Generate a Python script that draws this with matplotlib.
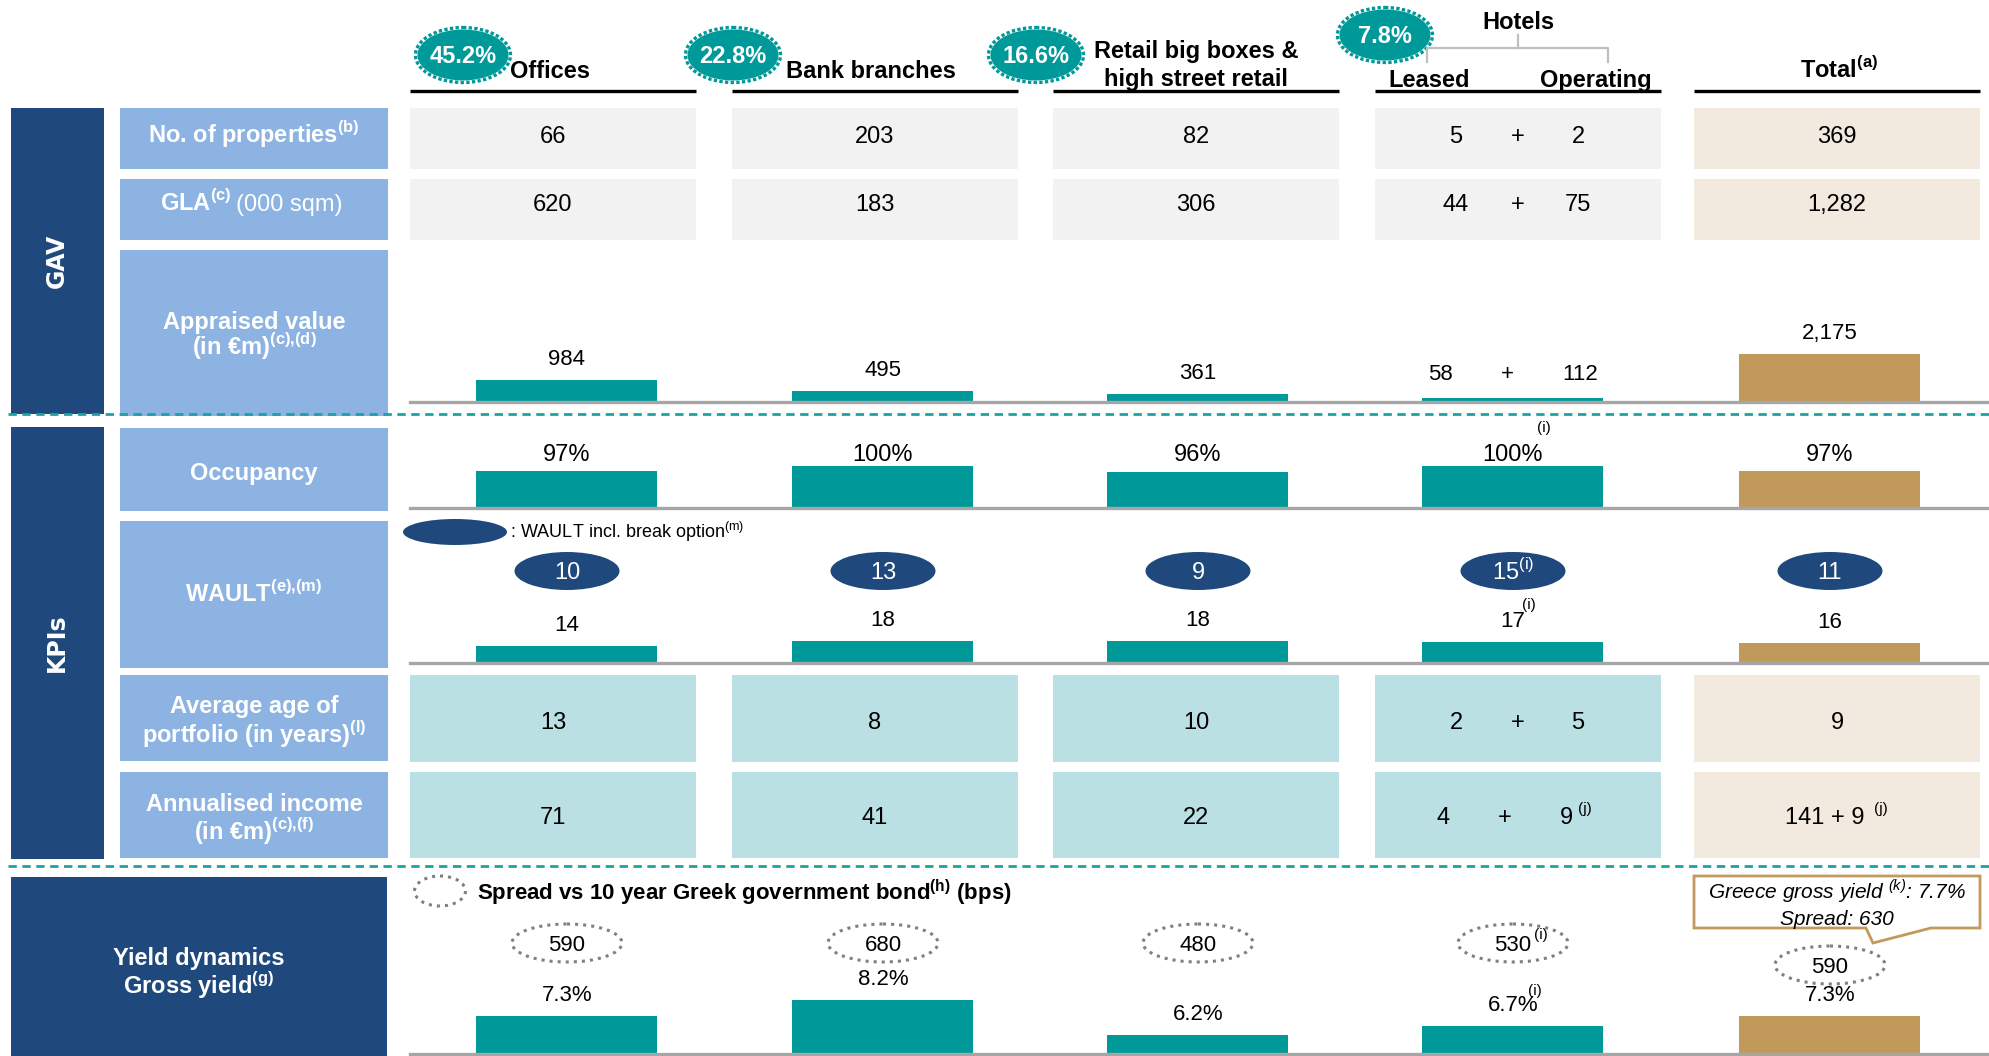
import matplotlib.pyplot as plt
from matplotlib.patches import Rectangle, Ellipse, Polygon

W, H = 1989, 1056

# --- data -------------------------------------------------------------
segments = ["Offices", "Bank branches", "Retail big boxes &\nhigh street retail", "Hotels", "Total"]
gav_share = ["45.2%", "22.8%", "16.6%", "7.8%"]
hotel_split = ["Leased", "Operating"]

n_properties = [66, 203, 82, (5, 2), 369]
gla_000sqm = [620, 183, 306, (44, 75), 1282]
appraised_value = [984, 495, 361, (58, 112), 2175]
occupancy_pct = [97, 100, 96, 100, 97]
wault_years = [14, 18, 18, 17, 16]
wault_break_years = [10, 13, 9, 15, 11]
avg_age_years = [13, 8, 10, (2, 5), 9]
annual_income = [71, 41, 22, (4, 9), (141, 9)]
gross_yield_pct = [7.3, 8.2, 6.2, 6.7, 7.3]
spread_bps = [590, 680, 480, 530, 590]
greece_yield_pct = 7.7
greece_spread_bps = 630

# --- colours ----------------------------------------------------------
NAVY = "#1F497D"
LBLUE = "#8DB3E2"
TEAL = "#009999"
TAN = "#C19A5B"
GREY_BOX = "#F2F2F2"
BEIGE = "#F2EADF"
LTEAL = "#BBE0E3"
BASE_GREY = "#A6A6A6"
DASH = "#1AA3A3"
bar_colors = [TEAL, TEAL, TEAL, TEAL, TAN]

plt.rcParams["font.family"] = ["Liberation Sans", "DejaVu Sans"]

fig = plt.figure(figsize=(W / 100, H / 100), dpi=100)
ax = fig.add_axes([0, 0, 1, 1])
ax.set_xlim(0, W)
ax.set_ylim(H, 0)
ax.axis("off")

# layout (pixels)
col_left = [410, 732, 1053, 1375, 1694]
COL_W = 286
col_mid = [x + COL_W / 2 for x in col_left]
bar_x = [567, 883, 1198, 1513, 1830]
BAR_W = 181


def sup(s):
    # {,} keeps mathtext from adding a space after the comma
    return r"$^{\mathdefault{" + s.replace(",", "{,}") + "}}$"


def txt(x, y, s, size=17, ha="center", **kw):
    # y = middle of the capitals
    base = y + 0.716 * size * 100 / 72 / 2
    return ax.text(x, base, s, ha=ha, va="baseline", fontsize=size, **kw)


def box(x, y0, y1, w, color):
    ax.add_patch(Rectangle((x, y0), w, y1 - y0, fc=color, ec="none"))


def pair(xc, y, v, dx=(-62, 0, 60)):
    txt(xc + dx[0], y, f"{v[0]:,}")
    txt(xc + dx[1], y, "+")
    txt(xc + dx[2], y, f"{v[1]:,}")


# --- left hand labels ---------------------------------------------------
box(11, 108, 414, 93, NAVY)
box(11, 427, 859, 93, NAVY)
box(11, 877, H, 376, NAVY)
ax.text(57, 261, "GAV", rotation=90, ha="center", va="center", color="white",
        fontsize=17, fontweight="bold", family="DejaVu Sans")
ax.text(57, 643, "KPIs", rotation=90, ha="center", va="center", color="white",
        fontsize=17, fontweight="bold", family="DejaVu Sans")

label_rows = [(108, 169), (179, 240), (250, 416), (428, 511), (521, 668), (675, 761), (772, 858)]
for y0, y1 in label_rows:
    box(120, y0, y1, 268, LBLUE)

lab = dict(color="white", fontweight="bold")
txt(254, 135, "No. of properties" + sup("(b)"), **lab)
txt(232, 203, "GLA" + sup("(c)"), ha="right", **lab)
txt(236, 203, "(000 sqm)", ha="left", color="white")
txt(254, 321, "Appraised value", **lab)
txt(254, 347, "(in €m)" + sup("(c),(d)"), **lab)
txt(254, 472, "Occupancy", **lab)
txt(254, 594, "WAULT" + sup("(e),(m)"), **lab)
txt(254, 705, "Average age of", **lab)
txt(254, 735, "portfolio (in years)" + sup("(l)"), **lab)
txt(254, 803, "Annualised income", **lab)
txt(254, 832, "(in €m)" + sup("(c),(f)"), **lab)
txt(199, 957, "Yield dynamics", **lab)
txt(199, 986, "Gross yield" + sup("(g)"), **lab)

# --- header -------------------------------------------------------------
for x in col_left:
    ax.plot([x, x + COL_W], [91, 91], color="black", lw=2.4, solid_capstyle="butt")

hb = dict(fontweight="bold", ha="left")
txt(510, 70, segments[0], **hb)
txt(786, 70, segments[1], **hb)
r1, r2 = segments[2].split("\n")
txt(1196, 50, r1, ha="center", fontweight="bold")
txt(1196, 78, r2, ha="center", fontweight="bold")
txt(1518, 21, segments[3], fontweight="bold")
txt(1429, 79, hotel_split[0], fontweight="bold")
txt(1596, 79, hotel_split[1], fontweight="bold")
txt(1839, 70, segments[4] + sup("(a)"), fontweight="bold")

# hotels bracket
ax.plot([1518, 1518], [35, 48], color="#BFBFBF", lw=1.6)
ax.plot([1427, 1427, 1608, 1608], [62, 48, 48, 62], color="#BFBFBF", lw=1.6)

for (cx, cy), s in zip([(463, 55), (733, 55), (1036, 55), (1385, 35)], gav_share):
    ax.add_patch(Ellipse((cx, cy), 91, 51, fc=TEAL, ec="none"))
    ax.add_patch(Ellipse((cx, cy), 95, 55, fc="none", ec=TEAL, lw=2.4, ls=(0, (1, 0.7))))
    txt(cx, cy, s, size=17, color="white", fontweight="bold")

# --- table rows -----------------------------------------------------------
for i in range(5):
    fill = BEIGE if i == 4 else GREY_BOX
    box(col_left[i], 108, 169, COL_W, fill)
    box(col_left[i], 179, 240, COL_W, fill)
    fill = BEIGE if i == 4 else LTEAL
    box(col_left[i], 675, 762, COL_W, fill)
    box(col_left[i], 772, 858, COL_W, fill)

for i in range(5):
    for y, vals in [(135, n_properties), (203, gla_000sqm), (721, avg_age_years)]:
        v = vals[i]
        if isinstance(v, tuple):
            pair(col_mid[i], y, v)
        else:
            txt(col_mid[i], y, f"{v:,}")

for i in range(3):
    txt(col_mid[i], 816, f"{annual_income[i]:,}")
pair(col_mid[3], 816, annual_income[3], dx=(-75, -13, 48))
txt(col_mid[3] + 60, 808, "(j)", size=11, ha="left")
a, b = annual_income[4]
txt(1825, 816, f"{a} + {b}")
txt(1874, 808, "(j)", size=11, ha="left")

# dashed separators
for y in (414, 866):
    ax.plot([8, W], [y, y], color=DASH, lw=2.0, ls=(0, (3, 2)))


# --- bar rows ---------------------------------------------------------------
def bar_row(base, top, vmin, px_per_unit):
    a = fig.add_axes([0, 1 - base / H, 1, (base - top) / H])
    a.set_xlim(0, W)
    a.set_ylim(vmin, vmin + (base - top) / px_per_unit)
    a.axis("off")
    a.plot([410, W], [vmin, vmin], color=BASE_GREY, lw=2.4, clip_on=False, zorder=3)
    return a


def bar_label(a, x, v, s, size=16, dx=0, dy=15):
    a.annotate(s, (x, v), xytext=(dx, dy), textcoords="offset pixels",
               ha="center", va="baseline", fontsize=size, annotation_clip=False)


# appraised value
app = [sum(v) if isinstance(v, tuple) else v for v in appraised_value]
a1 = bar_row(402, 250, 0, 0.022)
a1.bar(bar_x, app, width=BAR_W, color=bar_colors)
for i, v in enumerate(appraised_value):
    if isinstance(v, tuple):
        bar_label(a1, bar_x[i], app[i], f"{v[0]}", dx=-73, dy=18)
        bar_label(a1, bar_x[i], app[i], "+", dx=-6, dy=18)
        bar_label(a1, bar_x[i], app[i], f"{v[1]}", dx=67, dy=18)
    else:
        bar_label(a1, bar_x[i], app[i], f"{v:,}")

# occupancy
a2 = bar_row(508, 428, 72, 1.5)
a2.bar(bar_x, occupancy_pct, width=BAR_W, color=bar_colors)
for i, v in enumerate(occupancy_pct):
    txt(bar_x[i], 453, f"{v}%", size=17)
txt(1544, 427, "(i)", size=11)

# WAULT
ax.add_patch(Ellipse((455, 532), 104, 26, fc=NAVY, ec="none"))
txt(510, 532, ": WAULT incl. break option" + sup("(m)"), size=13, ha="left")
a3 = bar_row(663, 580, 0, 1.23)
a3.bar(bar_x, wault_years, width=BAR_W, color=bar_colors)
for i, v in enumerate(wault_years):
    bar_label(a3, bar_x[i], v, f"{v}")
    ax.add_patch(Ellipse((bar_x[i], 571), 105, 38, fc=NAVY, ec="none"))
    s = f"{wault_break_years[i]}" + (sup("(i)") if i == 3 else "")
    txt(bar_x[i], 571, s, size=17, color="white")
bar_label(a3, bar_x[3] + 16, wault_years[3], "(i)", size=11, dy=33)

# yield dynamics
ax.add_patch(Ellipse((440, 891), 51, 30, fc="none", ec="#808080", lw=2.2, ls=":"))
txt(477, 892, "Spread vs 10 year Greek government bond" + sup("(h)") + " (bps)",
    size=16, ha="left", fontweight="bold")
a4 = bar_row(1054, 960, 5.15, 17.8)
a4.bar(bar_x, gross_yield_pct, width=BAR_W, color=bar_colors)
for i, v in enumerate(gross_yield_pct):
    bar_label(a4, bar_x[i], v, f"{v}%")
    ey = 965 if i == 4 else 943
    ax.add_patch(Ellipse((bar_x[i], ey), 110, 38, fc="none", ec="#808080", lw=2.2, ls=":"))
    txt(bar_x[i], ey, f"{spread_bps[i]}", size=16)
bar_label(a4, bar_x[3] + 22, gross_yield_pct[3], "(i)", size=11, dy=31)
txt(bar_x[3] + 21, 934, "(i)", size=11, ha="left")

# Greece callout
ax.add_patch(Polygon([(1694, 876), (1980, 876), (1980, 928), (1931, 928), (1873, 943),
                      (1866, 928), (1694, 928)], closed=True, fc="white", ec=TAN, lw=2))
txt(1837, 891, "Greece gross yield " + sup("(k)") + f": {greece_yield_pct}%", size=15, style="italic")
txt(1837, 918, f"Spread: {greece_spread_bps}", size=15, style="italic")

fig.savefig("out.png", dpi=100)
